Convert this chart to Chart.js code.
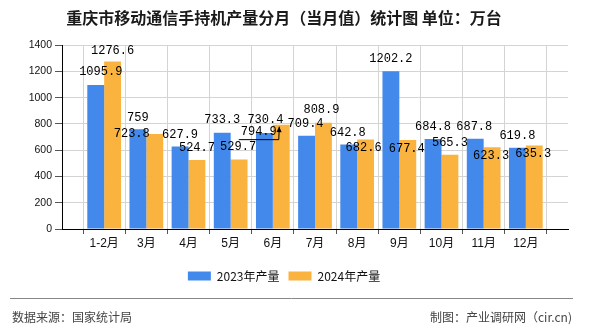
<!DOCTYPE html>
<html>
<head>
<meta charset="utf-8">
<script src="https://cdn.jsdelivr.net/npm/chart.js@4.4.1/dist/chart.umd.min.js"></script>
<style>
    body { margin: 0; background: #fff; }
    #wrap { width: 590px; height: 330px; }
</style>
</head>
<body>
<div id="wrap"><canvas id="prodChart" width="590" height="330"></canvas></div>
<script>
// chart data
const months = ['1-2月', '3月', '4月', '5月', '6月', '7月', '8月', '9月', '10月', '11月', '12月'];
const prod2023 = [1095.9, 759, 627.9, 733.3, 730.4, 709.4, 642.8, 1202.2, 684.8, 687.8, 619.8];
const prod2024 = [1276.6, 723.8, 524.7, 529.7, 794.9, 808.9, 682.6, 677.4, 565.3, 623.3, 635.3];
const yTicks = [0, 200, 400, 600, 800, 1000, 1200, 1400];

// label nudges relative to bar top centre (collisions moved like in the original)
const nudge2023 = [[5, -13], [0, -12], [0, -12], [0, -13], [1, -13], [-1, -12], [-1, -12], [0, -12], [0, -12], [-1, -12], [0, -12]];
const nudge2024 = [[0, -11], [-23, 0], [0, -12], [-1, -13], [-22.5, 7, 'leader'], [-2, -12.5], [-2, 8.5], [-1, 9], [0, -12], [-1, 8.5], [-1, 8.5]];

const cjk = '"Noto Sans CJK SC", "Liberation Sans", sans-serif';

// pad one empty slot on each side so the first/last groups sit one step in from the axes
const labels = [''].concat(months, ['']);
const pad = arr => [null].concat(arr, [null]);

const barLabels = {
    id: 'barLabels',
    afterDatasetsDraw(chart) {
        const ctx = chart.ctx;
        const nudges = [nudge2023, nudge2024];
        ctx.save();
        ctx.font = '12px "Liberation Mono", "DejaVu Sans Mono", monospace';
        ctx.fillStyle = '#000';
        ctx.textAlign = 'center';
        ctx.textBaseline = 'middle';
        chart.data.datasets.forEach((ds, di) => {
            const meta = chart.getDatasetMeta(di);
            meta.data.forEach((bar, i) => {
                const v = ds.data[i];
                if (v === null) return;
                const n = nudges[di][i - 1];
                const tx = bar.x + n[0];
                const ty = bar.y + n[1];
                ctx.fillText(String(v), tx, ty);
                if (n[2] === 'leader') {
                    const w = ctx.measureText(String(v)).width;
                    const ly = ty + 8;
                    ctx.strokeStyle = '#000';
                    ctx.lineWidth = 1;
                    ctx.beginPath();
                    ctx.moveTo(tx - w / 2 - 2, ly);
                    ctx.lineTo(tx + w / 2 + 2, ly);
                    const ax = bar.x - 2, ay = bar.y + 2;
                    ctx.lineTo(ax, ay);
                    ctx.stroke();
                    // arrow head
                    const ang = Math.atan2(ay - ly, ax - (tx + w / 2 + 2));
                    ctx.beginPath();
                    ctx.moveTo(ax, ay);
                    ctx.lineTo(ax - 6 * Math.cos(ang - 0.45), ay - 6 * Math.sin(ang - 0.45));
                    ctx.lineTo(ax - 6 * Math.cos(ang + 0.45), ay - 6 * Math.sin(ang + 0.45));
                    ctx.closePath();
                    ctx.fill();
                }
            });
        });
        ctx.restore();
    }
};

const footer = {
    id: 'footer',
    afterDraw(chart) {
        const ctx = chart.ctx;
        ctx.save();
        ctx.strokeStyle = '#888';
        ctx.lineWidth = 1;
        ctx.beginPath();
        ctx.moveTo(10, 298.5);
        ctx.lineTo(573, 298.5);
        ctx.stroke();
        ctx.font = '12px ' + cjk;
        ctx.fillStyle = '#444';
        ctx.textBaseline = 'middle';
        ctx.textAlign = 'left';
        ctx.fillText('数据来源：国家统计局', 12, 317);
        ctx.textAlign = 'right';
        ctx.fillText('制图：产业调研网（cir.cn)', 572, 317);
        ctx.restore();
    }
};

const ctx = document.getElementById('prodChart').getContext('2d');
const prodChart = new Chart(ctx, {
    type: 'bar',
    data: {
        labels: labels,
        datasets: [{
            label: '2023年产量',
            data: pad(prod2023),
            backgroundColor: '#4389EC',
            categoryPercentage: 0.8,
            barPercentage: 1.0
        }, {
            label: '2024年产量',
            data: pad(prod2024),
            backgroundColor: '#FBB33F',
            categoryPercentage: 0.8,
            barPercentage: 1.0
        }]
    },
    options: {
        responsive: false,
        animation: false,
        layout: {
            padding: { top: 0, left: 0, right: 22, bottom: 38 }
        },
        scales: {
            x: {
                offset: false,
                grid: {
                    color: '#d4d4d4',
                    tickColor: '#555',
                    tickLength: 5
                },
                border: { color: '#000', width: 1 },
                ticks: {
                    color: '#111',
                    padding: 2,
                    maxRotation: 0,
                    autoSkip: false,
                    font: { size: 12, family: '"Liberation Sans", "Noto Sans CJK SC", sans-serif' }
                },
                afterFit: function(scale) {
                    scale.height = 32;
                }
            },
            y: {
                min: 0,
                max: yTicks[yTicks.length - 1],
                afterBuildTicks: function(scale) {
                    scale.ticks = yTicks.map(v => ({ value: v }));
                },
                grid: {
                    color: '#d4d4d4',
                    tickColor: '#555',
                    tickLength: 7
                },
                border: { color: '#000', width: 1 },
                ticks: {
                    color: '#111',
                    padding: 3,
                    font: { size: 10.5, family: '"Liberation Sans", sans-serif' },
                    callback: function(value) {
                        return String(value);
                    }
                },
                afterFit: function(scale) {
                    scale.width = 62;
                }
            }
        },
        plugins: {
            title: {
                display: true,
                text: '重庆市移动通信手持机产量分月（当月值）统计图 单位：万台',
                color: '#1a1a1a',
                font: { size: 16, weight: 'bold', family: cjk },
                padding: { top: 8, bottom: 18 }
            },
            legend: {
                position: 'bottom',
                labels: {
                    boxWidth: 23,
                    boxHeight: 9,
                    padding: 9,
                    color: '#111',
                    font: { size: 12, family: cjk }
                }
            },
            tooltip: { enabled: false }
        }
    },
    plugins: [barLabels, footer]
});
</script>
</body>
</html>
